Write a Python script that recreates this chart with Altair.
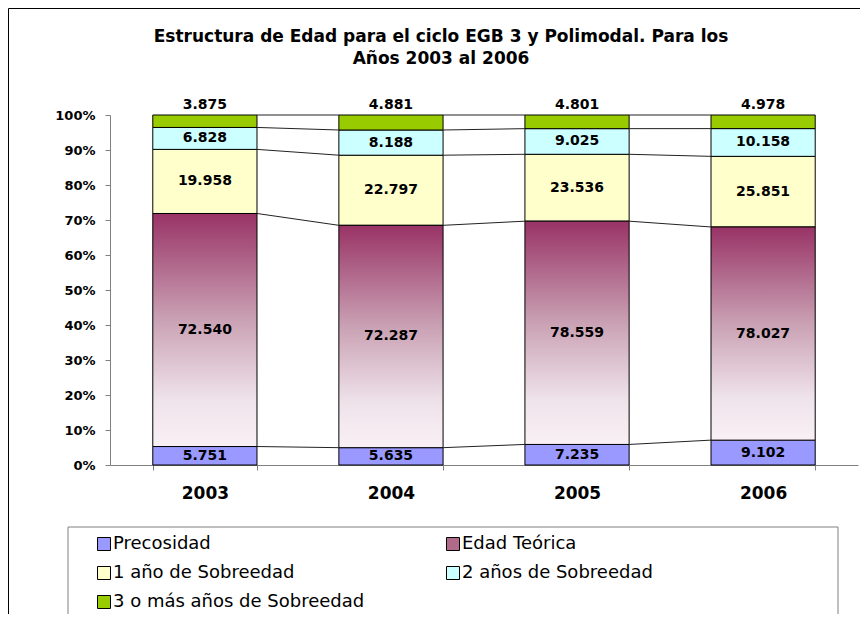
import altair as alt
import pandas as pd

# ---- data ----
years = ["2003", "2004", "2005", "2006"]
series = ["Precosidad", "Edad Teórica", "1 año de Sobreedad",
          "2 años de Sobreedad", "3 o más años de Sobreedad"]
precosidad = [5751, 5635, 7235, 9102]
edad_teorica = [72540, 72287, 78559, 78027]
sobre_1 = [19958, 22797, 23536, 25851]
sobre_2 = [6828, 8188, 9025, 10158]
sobre_3 = [3875, 4881, 4801, 4978]
colors = ["#9999FF", "#B06A8A", "#FFFFCC", "#CCFFFF", "#99CC00"]
title_lines = ["Estructura de Edad para el ciclo EGB 3 y Polimodal. Para los",
               "Años  2003 al 2006"]
y_ticks = [0, 0.1, 0.2, 0.3, 0.4, 0.5, 0.6, 0.7, 0.8, 0.9, 1.0]

values = [precosidad, edad_teorica, sobre_1, sobre_2, sobre_3]

rows = []
for j, yr in enumerate(years):
    total = sum(v[j] for v in values)
    acc = 0
    for k, name in enumerate(series):
        v = values[k][j]
        y0 = acc / total
        acc += v
        y1 = acc / total
        rows.append(dict(year=yr, series=name, value=v, y0=y0, y1=y1,
                         ymid=(y0 + y1) / 2,
                         label=f"{v:,}".replace(",", "."), order=k))
df = pd.DataFrame(rows)

rule_rows = []
for name in series:
    s = df[df.series == name].set_index("year")
    for j in range(len(years) - 1):
        rule_rows.append(dict(year=years[j], next=years[j + 1],
                              y=s.loc[years[j], "y1"], y2=s.loc[years[j + 1], "y1"]))
rules_df = pd.DataFrame(rule_rows)

FONT = "DejaVu Sans"
x_scale = alt.Scale(domain=years, paddingInner=0.44, paddingOuter=0.23)
y_scale = alt.Scale(domain=[0, 1], nice=False)

x_axis = alt.Axis(title=None, labelAngle=0, labelFont=FONT, labelFontSize=17,
                  labelFontWeight="bold", labelColor="black", labelPadding=15,
                  tickBand="extent", tickSize=5, tickColor="#808080",
                  domainColor="#808080")
y_axis = alt.Axis(title=None, format=".0%", values=y_ticks, labelFont=FONT,
                  labelFontSize=13, labelFontWeight="bold", labelColor="black",
                  labelPadding=10, tickSize=5, tickColor="#808080",
                  domainColor="#808080", grid=False, labelOverlap=False)


def X(field, **kw):
    return alt.X(field, scale=x_scale, axis=x_axis, **kw)


def Y(field):
    return alt.Y(field, scale=y_scale, axis=y_axis)


base = alt.Chart(df)

bars = base.transform_filter(alt.datum.series != "Edad Teórica").mark_bar(
    stroke="black", strokeWidth=1
).encode(
    x=X("year:N"),
    y=Y("y1:Q"),
    y2="y0:Q",
    fill=alt.Fill("series:N", scale=alt.Scale(domain=series, range=colors),
                  legend=alt.Legend(orient="none", legendX=-15, legendY=420,
                                    direction="horizontal",
                                    columns=2, title=None, symbolType="square",
                                    symbolSize=169, symbolStrokeColor="black",
                                    symbolStrokeWidth=1, labelFont=FONT,
                                    labelFontSize=18, labelColor="black",
                                    labelLimit=500, rowPadding=11,
                                    columnPadding=79, labelOffset=0, padding=0)),
)

grad = alt.Gradient(gradient="linear",
                    stops=[alt.GradientStop(color="#993366", offset=0),
                           alt.GradientStop(color="#C9A0B3", offset=0.45),
                           alt.GradientStop(color="#EFE3EA", offset=0.8),
                           alt.GradientStop(color="#F8F0F5", offset=1)],
                    x1=0, x2=0, y1=0, y2=1)

edad = base.transform_filter(alt.datum.series == "Edad Teórica").mark_bar(
    fill=grad, stroke="black", strokeWidth=1
).encode(
    x=X("year:N"),
    y=Y("y1:Q"),
    y2="y0:Q",
)

lines = alt.Chart(rules_df).mark_rule(color="#222222", strokeWidth=1).encode(
    x=X("year:N", bandPosition=1),
    x2=alt.X2("next:N", bandPosition=0),
    y=Y("y:Q"),
    y2="y2:Q",
)

mid_text = base.transform_filter(
    alt.datum.series != "3 o más años de Sobreedad"
).mark_text(font=FONT, fontSize=14, fontWeight="bold", color="black",
            baseline="middle").encode(
    x=X("year:N"),
    y=Y("ymid:Q"),
    text="label:N",
)

top_text = base.transform_filter(
    alt.datum.series == "3 o más años de Sobreedad"
).mark_text(font=FONT, fontSize=14, fontWeight="bold", color="black",
            baseline="bottom", dy=-3).encode(
    x=X("year:N"),
    y=Y("y1:Q"),
    text="label:N",
)

frame_df = pd.DataFrame({"k": [0]})
legend_box = alt.Chart(frame_df).mark_rect(
    fillOpacity=0, stroke="#808080", strokeWidth=1
).encode(x=alt.value(-42), x2=alt.value(728), y=alt.value(412), y2=alt.value(700))

outer_box = alt.Chart(frame_df).mark_rect(
    fillOpacity=0, stroke="black", strokeWidth=1
).encode(x=alt.value(-101.5), x2=alt.value(1000), y=alt.value(-106.5), y2=alt.value(1000))

chart = alt.layer(bars, edad, lines, mid_text, top_text, legend_box, outer_box).properties(
    width=748, height=350,
    title=alt.TitleParams(text=title_lines, font=FONT, fontSize=17,
                          fontWeight="bold", color="black", lineHeight=22,
                          anchor="middle", frame="group", dx=-43, offset=-60),
    autosize=alt.AutoSizeParams(type="none"),
    padding={"left": 102, "top": 107, "right": 2, "bottom": 149},
).configure_view(stroke=None)

chart.save("out.html", embed_options={"renderer": "svg", "actions": False})
